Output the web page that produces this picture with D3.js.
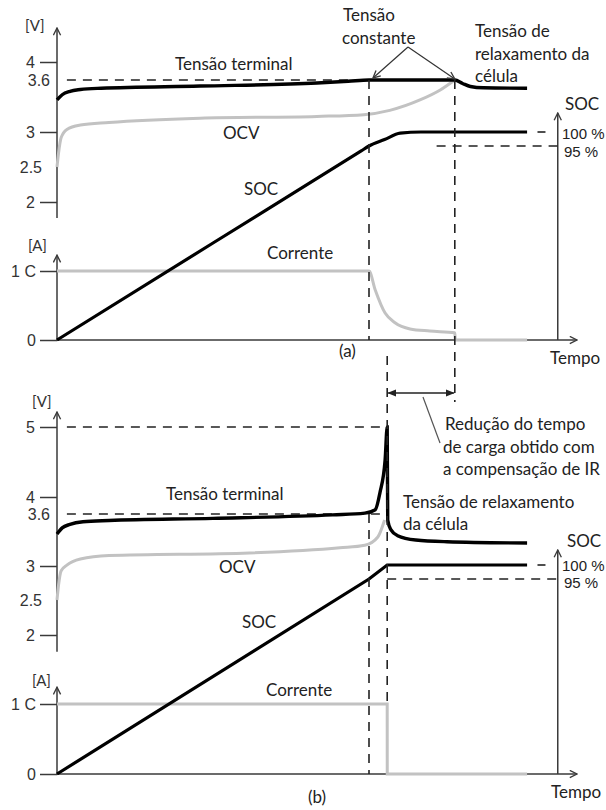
<!DOCTYPE html>
<html>
<head>
<meta charset="utf-8">
<script src="https://cdn.jsdelivr.net/npm/d3@7"></script>
<style>
  body { margin: 0; background: #fff; }
  text { font-family: Lato, "Open Sans", sans-serif; }
</style>
</head>
<body>
<svg id="chart" width="606" height="810"></svg>
<script>
// ---------- data (time in arbitrary units, voltage in V, SOC in %, current in C) ----------
const voltTicksA = [2, 3, 4];
const voltTicksB = [2, 3, 4, 5];
const currentTicks = [0, 1];
const currentLabels = ["0", "1 C"];

const tCvStart = 6.0;   // start of constant voltage phase
const tCvEnd = 7.65;    // end of charge in (a)
const tCutB = 6.35;     // end of charge in (b)
const tStop = 9.04;     // end of traces
const tSocAxis = 9.63;  // right SOC axis

const terminalA = [[0, 3.37], [0.1, 3.43], [0.25, 3.47], [0.45, 3.49], [0.85, 3.505], [2.75, 3.53],
  [5.0, 3.565], [5.6, 3.585], [6.0, 3.6], [7.65, 3.6], [7.8, 3.56], [7.95, 3.525], [8.2, 3.51], [9.04, 3.505]];
const ocvA = [[0, 2.5], [0.03, 2.7], [0.08, 2.92], [0.19, 3.03], [0.45, 3.08], [1.0, 3.11], [2.75, 3.16],
  [5.0, 3.18], [5.9, 3.2], [6.4, 3.25], [6.98, 3.37], [7.37, 3.485], [7.65, 3.6]];
const socA = [[0, 0], [3.0, 47.5], [5.85, 92.6], [6.0, 95], [6.3, 97.3], [6.6, 99.6], [7.0, 100], [9.04, 100]];
const currentA = [[0, 1], [6.0, 1], [6.12, 0.725], [6.31, 0.39], [6.5, 0.25], [6.79, 0.16], [7.17, 0.13],
  [7.65, 0.105], [7.66, 0], [9.04, 0]];

const terminalB = [[0, 3.37], [0.1, 3.44], [0.25, 3.48], [0.5, 3.51], [1.0, 3.525], [3.0, 3.55], [5.3, 3.59],
  [5.92, 3.62], [6.12, 3.7], [6.21, 4.06], [6.31, 4.53], [6.35, 5.0], [6.36, 3.53], [6.42, 3.42],
  [6.55, 3.35], [6.9, 3.3], [7.5, 3.28], [9.04, 3.265]];
const ocvB = [[0, 2.5], [0.03, 2.72], [0.08, 2.93], [0.19, 3.01], [0.45, 3.08], [1.0, 3.12], [3.7, 3.15],
  [5.44, 3.21], [5.92, 3.24], [6.17, 3.335], [6.3, 3.53]];
const socB = [[0, 0], [6.0, 95], [6.35, 100], [9.04, 100]];
const currentB = [[0, 1], [6.35, 1], [6.351, 0], [9.04, 0]];

// ---------- setup ----------
const svg = d3.select("#chart");
const BLACK = "#000", GRAY = "#c2c2c2", AXIS = "#3a3a3a", TXT = "#222";
const NUMFONT = "'Liberation Sans', Arial, sans-serif";

const defs = svg.append("defs");
defs.append("marker")
  .attr("id", "open").attr("viewBox", "0 0 10 10").attr("refX", 9).attr("refY", 5)
  .attr("markerWidth", 9).attr("markerHeight", 9).attr("markerUnits", "userSpaceOnUse")
  .attr("orient", "auto-start-reverse")
  .append("path").attr("d", "M1,1 L9,5 L1,9").attr("fill", "none")
  .attr("stroke", AXIS).attr("stroke-width", 1.5);
defs.append("marker")
  .attr("id", "solid").attr("viewBox", "0 0 10 10").attr("refX", 9).attr("refY", 5)
  .attr("markerWidth", 9).attr("markerHeight", 9).attr("markerUnits", "userSpaceOnUse")
  .attr("orient", "auto-start-reverse")
  .append("path").attr("d", "M0,1 L10,5 L0,9 z").attr("fill", "#222");

const x = d3.scaleLinear().domain([0, 10]).range([57, 577]);

const label = (tx, ty, str, opts = {}) =>
  svg.append("text").attr("x", tx).attr("y", ty).text(str)
    .attr("font-size", opts.size || 17).attr("fill", opts.fill || TXT)
    .attr("text-anchor", opts.anchor || "start")
    .style("font-family", opts.num ? NUMFONT : null);

const dashed = (x1, y1, x2, y2, dash) =>
  svg.append("line").attr("x1", x1).attr("y1", y1).attr("x2", x2).attr("y2", y2)
    .attr("stroke", "#222").attr("stroke-width", 1.6).attr("stroke-dasharray", dash || "9,7");

function drawPanel(p) {
  const { v, soc, cur, voltTicks, terminal, ocv, socData, current } = p;
  const lineV = d3.line().x(d => x(d[0])).y(d => v(d[1])).curve(d3.curveMonotoneX);
  const lineS = d3.line().x(d => x(d[0])).y(d => soc(d[1])).curve(p.sharp ? d3.curveLinear : d3.curveMonotoneX);
  const lineC = d3.line().x(d => x(d[0])).y(d => cur(d[1])).curve(p.sharp ? d3.curveLinear : d3.curveMonotoneX);

  // voltage axis
  svg.append("line").attr("x1", x(0)).attr("x2", x(0))
    .attr("y1", v(p.vRange[0])).attr("y2", v(p.vRange[1]))
    .attr("stroke", AXIS).attr("stroke-width", 1.5).attr("marker-end", "url(#open)");
  const gv = svg.append("g").attr("transform", `translate(${x(0)},0)`)
    .call(d3.axisLeft(v).tickValues(voltTicks).tickSize(17).tickPadding(5).tickFormat(d3.format("d")));
  gv.select(".domain").remove();
  gv.selectAll("line").attr("stroke", AXIS).attr("stroke-width", 1.5);
  gv.selectAll("text").attr("font-size", 16).attr("fill", "#333").style("font-family", NUMFONT);
  label(x(0) - 7, v(3.6) + 6, "3.6", { num: true, anchor: "end", fill: "#333", size: 16 });
  label(x(0) - 15, v(2.5) + 6, "2.5", { num: true, anchor: "end", fill: "#333", size: 16 });

  // current axis + time axis
  svg.append("line").attr("x1", x(0)).attr("x2", x(0))
    .attr("y1", cur(0)).attr("y2", cur(p.cRange))
    .attr("stroke", AXIS).attr("stroke-width", 1.5).attr("marker-end", "url(#open)");
  const gc = svg.append("g").attr("transform", `translate(${x(0)},0)`)
    .call(d3.axisLeft(cur).tickValues(currentTicks).tickSize(17).tickPadding(4)
      .tickFormat((d, i) => currentLabels[i]));
  gc.select(".domain").remove();
  gc.selectAll("line").attr("stroke", AXIS).attr("stroke-width", 1.5);
  gc.selectAll("text").attr("font-size", 16).attr("fill", "#333").style("font-family", NUMFONT);
  svg.append("line").attr("x1", x(0)).attr("x2", x(10))
    .attr("y1", cur(0)).attr("y2", cur(0))
    .attr("stroke", AXIS).attr("stroke-width", 1.5).attr("marker-end", "url(#open)");

  // SOC axis on the right
  svg.append("line").attr("x1", x(tSocAxis)).attr("x2", x(tSocAxis))
    .attr("y1", cur(0)).attr("y2", soc(p.sRange))
    .attr("stroke", AXIS).attr("stroke-width", 1.5).attr("marker-end", "url(#open)");

  // dashed guides
  dashed(x(0.19), v(3.6), x(p.tEnd), v(3.6));
  dashed(x(p.soc95From), soc(95), x(tSocAxis), soc(95));
  dashed(x(9.24), soc(100), x(tSocAxis), soc(100), "8,14");

  // series
  svg.append("path").attr("d", lineV(ocv)).attr("fill", "none").attr("stroke", GRAY).attr("stroke-width", 3);
  svg.append("path").attr("d", lineC(current)).attr("fill", "none").attr("stroke", GRAY).attr("stroke-width", 3);
  svg.append("path").attr("d", lineS(socData)).attr("fill", "none").attr("stroke", BLACK).attr("stroke-width", 3.2);
  svg.append("path").attr("d", lineV(terminal)).attr("fill", "none").attr("stroke", BLACK).attr("stroke-width", 3.4);
}

// ---------- panel (a) ----------
const vA = d3.scaleLinear().domain([2, 2.5, 3, 3.6, 4, 4.5]).range([202, 167, 132, 80, 62, 28]);
const sA = d3.scaleLinear().domain([0, 95, 100, 107]).range([340, 146, 132, 113]);
const cA = d3.scaleLinear().domain([0, 1]).range([340, 271]);
drawPanel({ v: vA, soc: sA, cur: cA, voltTicks: voltTicksA, terminal: terminalA, ocv: ocvA,
  socData: socA, current: currentA, vRange: [1.77, 4.5], cRange: 1.23, sRange: 107,
  tEnd: tCvEnd, soc95From: 7.3 });

dashed(x(tCvStart), vA(3.6), x(tCvStart), cA(0));
dashed(x(tCvEnd), vA(3.6), x(tCvEnd), 402);

// ---------- panel (b) ----------
const vB = d3.scaleLinear().domain([2, 2.5, 3, 3.6, 4, 5, 5.2]).range([635, 600, 566, 514, 497, 427, 412]);
const sB = d3.scaleLinear().domain([0, 95, 100, 106]).range([774, 579, 565, 550]);
const cB = d3.scaleLinear().domain([0, 1]).range([774, 704]);
dashed(x(0.19), vB(5), x(tCutB), vB(5));
drawPanel({ v: vB, soc: sB, cur: cB, voltTicks: voltTicksB, terminal: terminalB, ocv: ocvB,
  socData: socB, current: currentB, vRange: [1.76, 5.2], cRange: 1.24, sRange: 106,
  tEnd: tCutB, soc95From: tCutB, sharp: true });

dashed(x(tCvStart), vB(3.6), x(tCvStart), cB(0));
dashed(x(tCutB), 356, x(tCutB), cB(1));

// bracket showing time saved
svg.append("line").attr("x1", x(tCutB) + 1).attr("x2", x(tCvEnd) - 1).attr("y1", 393).attr("y2", 393)
  .attr("stroke", "#222").attr("stroke-width", 1.6)
  .attr("marker-start", "url(#solid)").attr("marker-end", "url(#solid)");
svg.append("line").attr("x1", 440).attr("y1", 443).attr("x2", 423).attr("y2", 397)
  .attr("stroke", "#555").attr("stroke-width", 1.2);

// ---------- text labels ----------
label(25, 31, "[V]", { size: 15, fill: "#333" });
label(28, 251, "[A]", { size: 15, fill: "#333" });
label(32, 407, "[V]", { size: 15, fill: "#333" });
label(32, 686, "[A]", { size: 15, fill: "#333" });

label(175, 70, "Tensão terminal");
label(223, 139, "OCV");
label(244, 195, "SOC");
label(267, 259, "Corrente");
label(339, 357, "(a)");
label(550, 364, "Tempo");

label(343, 21, "Tensão");
label(342, 44, "constante");
svg.append("line").attr("x1", 408).attr("y1", 47).attr("x2", x(tCvStart) + 4).attr("y2", vA(3.6) - 2)
  .attr("stroke", "#333").attr("stroke-width", 1.2).attr("marker-end", "url(#open)");
svg.append("line").attr("x1", 408).attr("y1", 47).attr("x2", x(tCvEnd)).attr("y2", vA(3.6) - 1)
  .attr("stroke", "#333").attr("stroke-width", 1.2).attr("marker-end", "url(#open)");
label(475, 37, "Tensão de");
label(475, 60, "relaxamento da");
label(475, 82, "célula");

label(565, 110, "SOC");
label(562, 139, "100 %", { num: true, size: 15 });
label(564, 157, "95 %", { num: true, size: 15 });

label(166, 500, "Tensão terminal");
label(219, 573, "OCV");
label(242, 628, "SOC");
label(266, 696, "Corrente");
label(308, 803, "(b)");
label(551, 798, "Tempo");

label(445, 430, "Redução do tempo");
label(443, 453, "de carga obtido com");
label(443, 475, "a compensação de IR");
label(403, 508, "Tensão de relaxamento");
label(403, 530, "da célula");

label(567, 547, "SOC");
label(562, 571, "100 %", { num: true, size: 15 });
label(564, 588, "95 %", { num: true, size: 15 });
</script>
</body>
</html>
